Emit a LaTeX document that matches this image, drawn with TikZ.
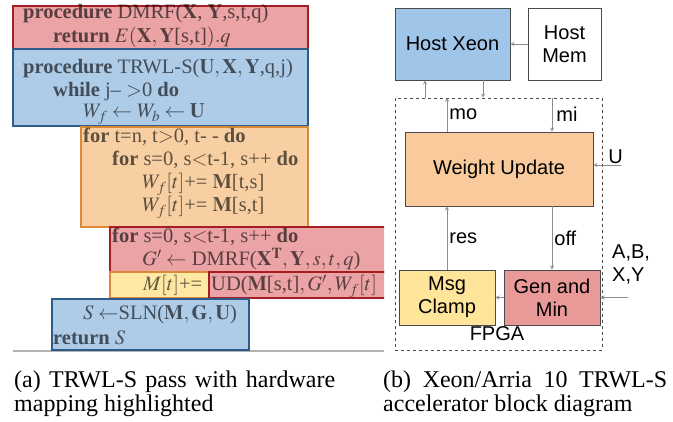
\documentclass[tikz,border=0pt]{standalone}
\usepackage{mathptmx}
\usepackage[no-math]{fontspec}
\setmainfont{Liberation Serif}
\newfontfamily\blockfont{Liberation Sans}
\usepackage{tikz}

\definecolor{hwred}{HTML}{EA9999}
\definecolor{hwblue}{HTML}{9FC5E8}
\definecolor{hworange}{HTML}{F9CB9C}
\definecolor{hwyellow}{HTML}{FFE599}
\definecolor{edge}{HTML}{4A4A4A}
\definecolor{wire}{HTML}{8C8C8C}
\definecolor{codered}{HTML}{EBA3A6}
\definecolor{codeblue}{HTML}{AECBE8}
\definecolor{codeorange}{HTML}{F8CFA2}
\definecolor{codeyellow}{HTML}{FFE8A3}
\definecolor{redline}{HTML}{A41E22}
\definecolor{blueline}{HTML}{2E5B8A}
\definecolor{orangeline}{HTML}{D88A38}

\tikzstyle{arrow} = [->,>=stealth,draw=wire,line width=0.8pt]
\tikzstyle{block} = [draw=edge,line width=0.8pt,font=\blockfont\fontsize{20}{23}\selectfont,align=center,inner sep=0pt]
\tikzstyle{lbl} = [font=\blockfont\fontsize{20}{23}\selectfont,inner sep=2pt]
\tikzstyle{code} = [anchor=base west,inner sep=0pt,font=\fontsize{20.5}{20.5}\selectfont,text opacity=0.62]
\tikzstyle{hl} = [line width=1.2pt]
\tikzstyle{caption} = [anchor=base west,inner sep=0pt,font=\fontsize{24}{25}\selectfont]

\begin{document}
\begin{tikzpicture}[x=1pt,y=-1pt]
    \useasboundingbox (0,0) rectangle (673,422);

    % pseudo-code with the hardware mapping
    \draw[line width=1.5pt, black!30] (13,351) -- (384,351);
    \begin{scope}
        \clip (0,0) rectangle (384,422);
        \draw[hl, draw=redline, fill=codered] (13,6) rectangle (308,49);
        \draw[hl, draw=blueline, fill=codeblue] (13,49) rectangle (308,126);
        \draw[hl, draw=orangeline, fill=codeorange] (81,127) rectangle (308,227);
        \draw[hl, draw=redline, fill=codered] (110,227) rectangle (400,272);
        \draw[hl, draw=orangeline, fill=codeyellow] (110,272) rectangle (209,298);
        \draw[hl, draw=redline, fill=codered] (209,272) rectangle (400,298);
        \draw[hl, draw=blueline, fill=codeblue] (52,299) rectangle (249,350);

        \node[code] at (23,19) (dmrf) {\textbf{procedure} DMRF($\mathbf{X}$, $\mathbf{Y}$,s,t,q)};
        \node[code] at (53,43) (dmrfret) {\textbf{return} $E(\mathbf{X}, \mathbf{Y}$[s,t]$).q$};
        \node[code] at (23,74) (trwl) {\textbf{procedure} TRWL-S($\mathbf{U}, \mathbf{X}, \mathbf{Y}$,q,j)};
        \node[code] at (53,97) (loop) {\textbf{while} j-- $>$0 \textbf{do}};
        \node[code] at (83,118) (init) {$W_f \leftarrow W_b \leftarrow \mathbf{U}$};
        \node[code] at (83,143) (fort) {\textbf{for} t=n, t$>$0, t- - \textbf{do}};
        \node[code] at (112,166) (fors) {\textbf{for} s=0, s$<$t-1, s++ \textbf{do}};
        \node[code] at (142,189) (wts) {$W_f[t]$+= $\mathbf{M}$[t,s]};
        \node[code] at (142,212) (wst) {$W_f[t]$+= $\mathbf{M}$[s,t]};
        \node[code] at (112,243) (forsb) {\textbf{for} s=0, s$<$t-1, s++ \textbf{do}};
        \node[code] at (142,266) (gprime) {$G' \leftarrow$ DMRF($\mathbf{X}^{\mathbf{T}}, \mathbf{Y}, s, t, q$)};
        \node[code] at (143,291) (mt) {$M[t]$+=};
        \node[code] at (211,291) (ud) {UD($\mathbf{M}$[s,t]$, G', W_f[t]$};
        \node[code] at (83,320) (sln) {$S \leftarrow$SLN($\mathbf{M}, \mathbf{G}, \mathbf{U}$)};
        \node[code] at (53,345) (ret) {\textbf{return} $S$};
    \end{scope}

    % accelerator blocks
    \node[block, fill=hwblue, minimum width=115pt, minimum height=72pt] at (452.5,44) (xeon) {Host Xeon};
    \node[block, fill=white, minimum width=73pt, minimum height=72pt] at (564.5,44) (mem) {Host\\Mem};
    \node[draw=edge, dashed, line width=0.6pt, minimum width=207pt, minimum height=252pt, inner sep=0pt] at (498.5,224) (fpga) {};
    \node[block, fill=hworange, minimum width=188pt, minimum height=74pt] at (499,169) (wu) {Weight Update};
    \node[block, fill=hwyellow, minimum width=96pt, minimum height=55pt] at (447,297.5) (clamp) {Msg\\Clamp};
    \node[block, fill=hwred, minimum width=96pt, minimum height=55pt] at (552,297.5) (genmin) {Gen and\\Min};
    \node[lbl] at (497,334) (fpganame) {FPGA};
    \node[lbl, anchor=west, align=left, inner sep=0pt] at (612,264.5) (abxy) {A,B,\\X,Y};

    \coordinate (up) at (425,0);
    \coordinate (down) at (483,0);
    \coordinate (uin) at (621,165);
    \coordinate (abin) at (628,297.5);

    \draw[arrow] (mem) -- (xeon);
    \draw[arrow] (up |- fpga.north) -- (up |- xeon.south);
    \draw[arrow] (down |- xeon.south) -- (down |- fpga.north);
    \draw[arrow] (clamp |- wu.north) -- (clamp |- fpga.north) node[lbl, midway, right]{mo};
    \draw[arrow] (genmin |- fpga.north) -- (genmin |- wu.north) node[lbl, midway, right, xshift=2pt]{mi};
    \draw[arrow] (uin) -- (uin -| wu.east) node[lbl, pos=0.2, above, yshift=-1pt]{U};
    \draw[arrow] (clamp) -- (clamp |- wu.south) node[lbl, midway, right]{res};
    \draw[arrow] (genmin |- wu.south) -- (genmin) node[lbl, midway, right]{off};
    \draw[arrow] (genmin) -- (clamp);
    \draw[arrow] (abin) -- (genmin);

    % sub-captions
    \node[caption] at (14,388) (capa) {\makebox[321pt][s]{(a) TRWL-S pass with hardware}};
    \node[caption] at (14,412) (capb) {mapping highlighted};
    \node[caption] at (383,388) (capc) {\makebox[284pt][s]{(b) Xeon/Arria 10 TRWL-S}};
    \node[caption] at (383,412) (capd) {accelerator block diagram};
\end{tikzpicture}
\end{document}
